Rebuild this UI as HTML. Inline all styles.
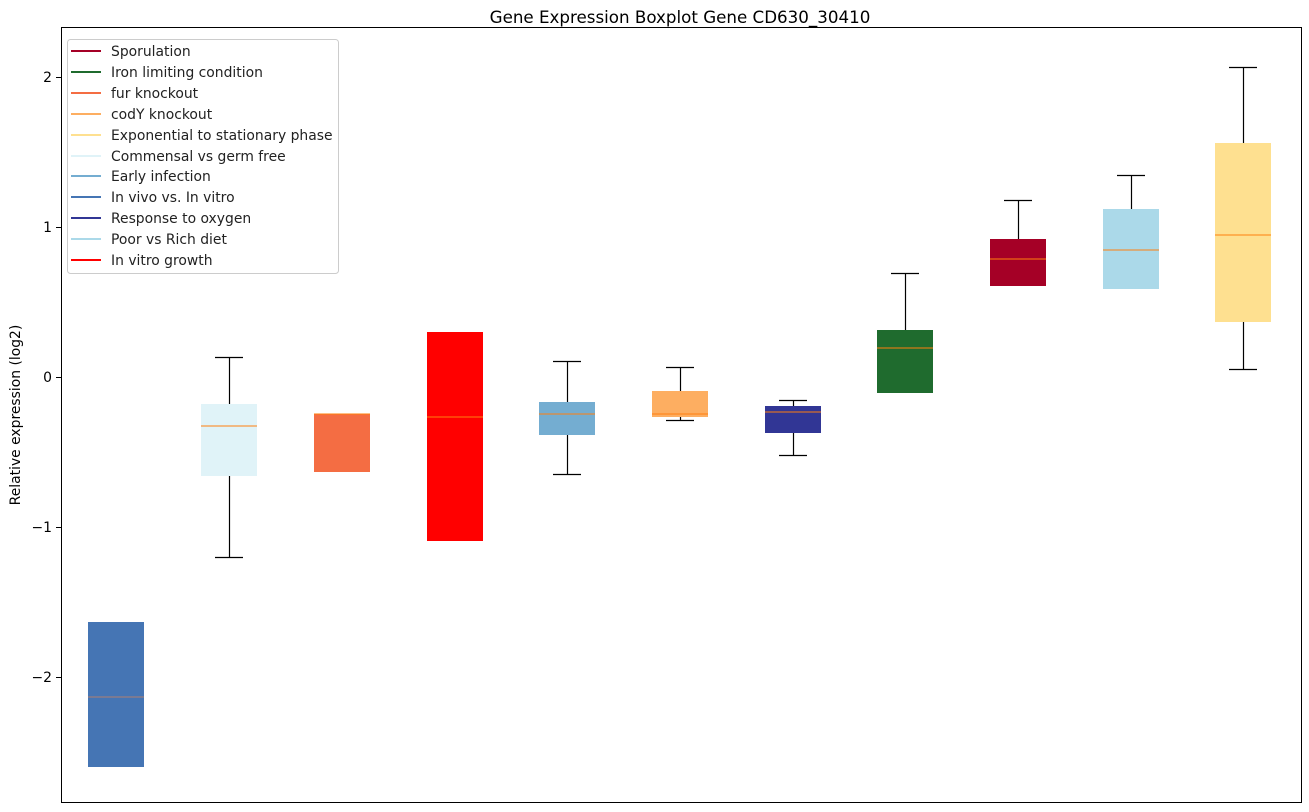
<!DOCTYPE html>
<html><head><meta charset="utf-8"><style>body{margin:0;background:#fff}svg{display:block;font-family:"DejaVu Sans","Liberation Sans",sans-serif}</style></head><body>
<svg width="1309" height="812" viewBox="0 0 1309 812" xmlns="http://www.w3.org/2000/svg">
<rect width="1309" height="812" fill="#fff"/>
<text x="680" y="23" font-size="16.7" text-anchor="middle">Gene Expression Boxplot Gene CD630_30410</text>
<g stroke="#000" stroke-width="1.2">
<line x1="229.5" y1="357.5" x2="229.5" y2="404"/><line x1="229.5" y1="476" x2="229.5" y2="557.5"/><line x1="215" y1="357.5" x2="243" y2="357.5"/><line x1="215" y1="557.5" x2="243" y2="557.5"/>
<line x1="567.5" y1="361.5" x2="567.5" y2="402"/><line x1="567.5" y1="435" x2="567.5" y2="474.5"/><line x1="553" y1="361.5" x2="581" y2="361.5"/><line x1="553" y1="474.5" x2="581" y2="474.5"/>
<line x1="680.5" y1="367.5" x2="680.5" y2="391"/><line x1="680.5" y1="417" x2="680.5" y2="420.5"/><line x1="666" y1="367.5" x2="694" y2="367.5"/><line x1="666" y1="420.5" x2="694" y2="420.5"/>
<line x1="793.5" y1="400.5" x2="793.5" y2="406"/><line x1="793.5" y1="433" x2="793.5" y2="455.5"/><line x1="779" y1="400.5" x2="807" y2="400.5"/><line x1="779" y1="455.5" x2="807" y2="455.5"/>
<line x1="905.5" y1="273.5" x2="905.5" y2="330"/><line x1="891" y1="273.5" x2="919" y2="273.5"/>
<line x1="1018.5" y1="200.5" x2="1018.5" y2="239"/><line x1="1004" y1="200.5" x2="1032" y2="200.5"/>
<line x1="1131.5" y1="175.5" x2="1131.5" y2="209"/><line x1="1117" y1="175.5" x2="1145" y2="175.5"/>
<line x1="1243.5" y1="67.5" x2="1243.5" y2="143"/><line x1="1243.5" y1="322" x2="1243.5" y2="369.5"/><line x1="1229" y1="67.5" x2="1257" y2="67.5"/><line x1="1229" y1="369.5" x2="1257" y2="369.5"/>
</g>
<g stroke="none">
<rect x="88" y="622" width="56" height="145" fill="#4575b4"/>
<rect x="201" y="404" width="56" height="72" fill="#e0f3f8"/>
<rect x="314" y="414" width="56" height="58" fill="#f46d43"/>
<rect x="427" y="332" width="56" height="209" fill="#ff0000"/>
<rect x="539" y="402" width="56" height="33" fill="#74add1"/>
<rect x="652" y="391" width="56" height="26" fill="#fdae61"/>
<rect x="765" y="406" width="56" height="27" fill="#313695"/>
<rect x="877" y="330" width="56" height="63" fill="#1f6b2e"/>
<rect x="990" y="239" width="56" height="47" fill="#a50026"/>
<rect x="1103" y="209" width="56" height="80" fill="#abd9e9"/>
<rect x="1215" y="143" width="56" height="179" fill="#fee090"/>
</g>
<g stroke="#ff7f0e" stroke-width="1">
<line x1="88" y1="697" x2="144" y2="697" stroke="#b08070"/>
<line x1="201" y1="426" x2="257" y2="426"/><line x1="314" y1="414" x2="370" y2="414"/>
<line x1="427" y1="417" x2="483" y2="417"/><line x1="539" y1="414" x2="595" y2="414"/>
<line x1="652" y1="414" x2="708" y2="414"/><line x1="765" y1="412" x2="821" y2="412"/>
<line x1="877" y1="348" x2="933" y2="348"/><line x1="990" y1="259" x2="1046" y2="259"/>
<line x1="1103" y1="250" x2="1159" y2="250"/><line x1="1215" y1="235" x2="1271" y2="235"/>
</g>
<rect x="61.5" y="27.5" width="1240" height="775" fill="none" stroke="#000" stroke-width="1"/>
<g stroke="#000"><line x1="56" y1="77.5" x2="61" y2="77.5"/><line x1="56" y1="227.5" x2="61" y2="227.5"/><line x1="56" y1="377.5" x2="61" y2="377.5"/><line x1="56" y1="527.5" x2="61" y2="527.5"/><line x1="56" y1="677.5" x2="61" y2="677.5"/></g>
<g font-size="13.9" text-anchor="end"><text x="52" y="82">2</text><text x="52" y="232">1</text><text x="52" y="382">0</text><text x="52" y="532">−1</text><text x="52" y="682">−2</text></g>
<text transform="translate(20,415) rotate(-90)" font-size="13.9" text-anchor="middle">Relative expression (log2)</text>
<rect x="67.5" y="39.5" width="271" height="234" rx="3" fill="#fff" fill-opacity="0.8" stroke="#ccc"/>
<g stroke-width="2">
<line x1="71" y1="51" x2="101" y2="51" stroke="#a50026"/><line x1="71" y1="72" x2="101" y2="72" stroke="#1f6b2e"/>
<line x1="71" y1="93" x2="101" y2="93" stroke="#f46d43"/><line x1="71" y1="114" x2="101" y2="114" stroke="#fdae61"/>
<line x1="71" y1="135" x2="101" y2="135" stroke="#fee090"/><line x1="71" y1="156" x2="101" y2="156" stroke="#e0f3f8"/>
<line x1="71" y1="176" x2="101" y2="176" stroke="#74add1"/><line x1="71" y1="197" x2="101" y2="197" stroke="#4575b4"/>
<line x1="71" y1="218" x2="101" y2="218" stroke="#313695"/><line x1="71" y1="239" x2="101" y2="239" stroke="#abd9e9"/>
<line x1="71" y1="260" x2="101" y2="260" stroke="#ff0000"/>
</g>
<g font-size="13.9" fill="#222">
<text x="111" y="56">Sporulation</text><text x="111" y="77">Iron limiting condition</text>
<text x="111" y="98">fur knockout</text><text x="111" y="119">codY knockout</text>
<text x="111" y="140">Exponential to stationary phase</text><text x="111" y="161">Commensal vs germ free</text>
<text x="111" y="181">Early infection</text><text x="111" y="202">In vivo vs. In vitro</text>
<text x="111" y="223">Response to oxygen</text><text x="111" y="244">Poor vs Rich diet</text>
<text x="111" y="265">In vitro growth</text>
</g>
</svg>
</body></html>
